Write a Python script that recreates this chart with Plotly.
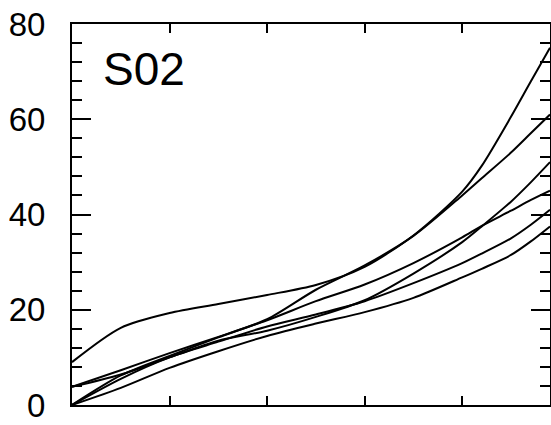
import plotly.graph_objects as go

x_vals = [0, 0.5, 1.0, 1.5, 2.0, 2.5, 3.0, 3.5, 4.0, 4.2, 4.5, 4.7, 4.9]
curve_a = [9.0, 16.2, 19.3, 21.2, 23.1, 25.2, 29.0, 35.6, 44.8, 50.2, 60.5, 67.8, 75.0]
curve_x = [0.0, 6.2, 10.3, 14.2, 18.0, 24.2, 29.3, 35.5, 44.0, 47.6, 53.0, 57.0, 61.0]
curve_l1 = [3.8, 7.3, 10.9, 14.3, 17.8, 21.8, 25.3, 29.8, 35.2, 37.6, 40.8, 43.0, 45.0]
curve_l2 = [3.8, 6.4, 10.0, 13.5, 15.6, 18.5, 22.0, 27.6, 34.2, 37.5, 42.7, 46.7, 51.0]
curve_l3 = [0.0, 5.5, 10.0, 13.3, 16.5, 19.0, 21.8, 25.6, 29.8, 31.8, 35.0, 37.8, 41.0]
curve_e = [0.0, 3.6, 7.8, 11.3, 14.5, 17.1, 19.5, 22.5, 26.8, 28.6, 31.5, 34.3, 37.5]

y_ticks = [0, 20, 40, 60, 80]
x_ticks = [1, 2, 3, 4]
panel_label = "S02"

fig = go.Figure()
for ys in [curve_a, curve_x, curve_l1, curve_l2, curve_l3, curve_e]:
    fig.add_trace(go.Scatter(x=x_vals, y=ys, mode="lines",
                             line=dict(color="black", width=2, shape="spline", smoothing=0.8),
                             showlegend=False, hoverinfo="skip"))

fig.add_annotation(x=0.06, y=0.955, xref="paper", yref="paper", text=panel_label,
                   showarrow=False, xanchor="left", yanchor="top",
                   font=dict(family="Liberation Sans, Arial, sans-serif", size=46, color="black"))

fig.update_layout(
    width=551, height=425,
    margin=dict(l=72, r=1, t=24, b=20, autoexpand=False),
    plot_bgcolor="white", paper_bgcolor="white",
    font=dict(family="Liberation Sans, Arial, sans-serif", size=33, color="black"),
)
fig.update_xaxes(range=[0, 4.9], tickvals=x_ticks, showticklabels=False, automargin=False,
                 ticks="inside", ticklen=9, tickwidth=2, tickcolor="black",
                 showline=True, linecolor="black", linewidth=2, mirror="ticks",
                 showgrid=False, zeroline=False)
fig.update_yaxes(range=[0, 80], tickvals=y_ticks, ticks="inside", ticklen=19, tickwidth=2,
                 tickcolor="black", showline=True, linecolor="black", linewidth=2,
                 automargin=False, mirror="ticks", showgrid=False, zeroline=False,
                 ticklabelstandoff=18, ticklabeloverflow="allow",
                 minor=dict(dtick=4, ticks="inside", ticklen=10, tickwidth=2, tickcolor="black",
                            showgrid=False))

fig.write_html("out.html", config={"displayModeBar": False, "staticPlot": True},
               post_script="document.body.style.margin='0';document.body.style.overflow='hidden';")
